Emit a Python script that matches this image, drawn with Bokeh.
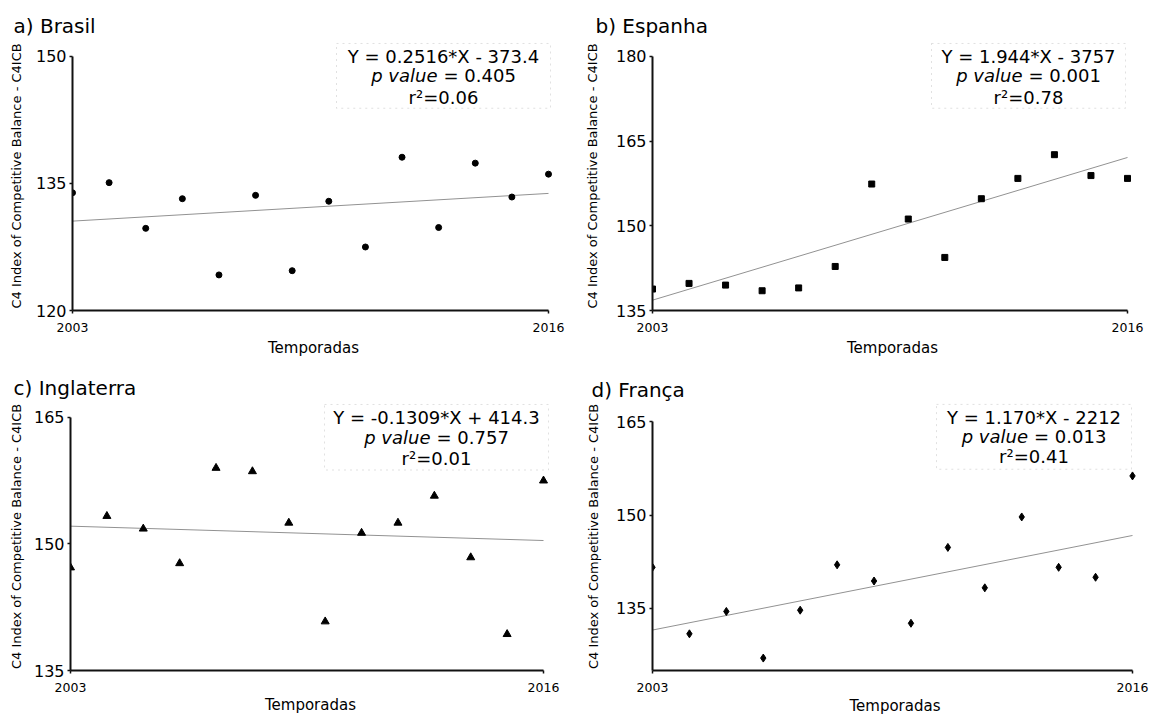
from bokeh.plotting import figure
from bokeh.models import Range1d, FixedTicker, Label, BoxAnnotation
from bokeh.layouts import column, row
from bokeh.embed import file_html
from bokeh.resources import INLINE

# ---------------- data ----------------
years = [2003, 2004, 2005, 2006, 2007, 2008, 2009, 2010, 2011, 2012, 2013, 2014, 2015, 2016]
brasil = [133.9, 135.1, 129.7, 133.2, 124.2, 133.6, 124.7, 132.9, 127.5, 138.1, 129.8, 137.4, 133.4, 136.1]
espanha = [138.8, 139.8, 139.5, 138.5, 139.0, 142.8, 157.4, 151.2, 144.4, 154.8, 158.4, 162.6, 158.9, 158.4]
inglaterra = [147.2, 153.3, 151.8, 147.7, 159.0, 158.6, 152.5, 140.8, 151.3, 152.5, 155.7, 148.4, 139.3, 157.5]
franca = [141.6, 130.9, 134.5, 127.0, 134.7, 142.0, 139.4, 132.6, 144.8, 138.3, 149.7, 141.6, 140.0, 156.3]

titles = ["a) Brasil", "b) Espanha", "c) Inglaterra", "d) França"]
equations = ["Y = 0.2516*X - 373.4", "Y = 1.944*X - 3757", "Y = -0.1309*X + 414.3", "Y = 1.170*X - 2212"]
p_values = ["0.405", "0.001", "0.757", "0.013"]
r2_values = ["0.06", "0.78", "0.01", "0.41"]
slopes = [0.2516, 1.944, -0.1309, 1.170]
intercepts = [-373.4, -3757.0, 414.3, -2212.0]
y_ranges = [(120, 150), (135, 180), (135, 165), (125, 165)]
y_ticks = [[120, 135, 150], [135, 150, 165, 180], [135, 150, 165], [135, 150, 165]]
x_ticks = [2003, 2016]
y_label = "C4 Index of Competitive Balance - C4ICB"
x_label = "Temporadas"

# ---------------- styles / layout ----------------
series = [brasil, espanha, inglaterra, franca]
markers = ["circle", "square", "triangle", "diamond"]
marker_sizes = [6, 6, 8, 8]
FONT = "DejaVu Sans"

# page-pixel geometry of each panel
#  L: y-axis x, R16: x of last year tick, TT: y of top tick, B: x-axis y
#  FR/FT: right/top edge of the drawing frame (room for the stats box)
GEOM = [
    dict(ox=0, oy=0, w=576, h=359, L=72, R16=548, TT=56, B=311, FR=554, FT=41,
         title=(13, 25), box=(336, 550, 43, 108), lines=(56, 75, 97), ylab_sd=9, xlab_sd=4),
    dict(ox=576, oy=0, w=576, h=359, L=652, R16=1127, TT=56, B=311, FR=1132, FT=41,
         title=(595, 25), box=(931, 1125, 43, 108), lines=(56, 75, 97), ylab_sd=13, xlab_sd=4),
    dict(ox=0, oy=359, w=576, h=359, L=70, R16=543, TT=417, B=672, FR=550, FT=402,
         title=(13, 387), box=(324, 548, 404, 470), lines=(417, 437, 458), ylab_sd=7, xlab_sd=1),
    dict(ox=576, oy=359, w=576, h=359, L=652, R16=1132, TT=413, B=670, FR=1137, FT=393,
         title=(591, 383), box=(936, 1131, 395, 462), lines=(409, 428, 449), ylab_sd=12, xlab_sd=2),
]


def make_panel(i):
    g = GEOM[i]
    y0, y1 = y_ranges[i]
    x0, x1 = years[0], years[-1]
    xpp = (x1 - x0) / (g["R16"] - g["L"])      # data units per pixel (x)
    ypp = (y1 - y0) / (g["B"] - g["TT"])       # data units per pixel (y)

    def X(px):
        return x0 + (px - g["L"]) * xpp

    def Y(py):
        return y0 + (g["B"] - py) * ypp

    p = figure(width=g["w"], height=g["h"],
               x_range=Range1d(x0, X(g["FR"])), y_range=Range1d(y0, Y(g["FT"])),
               output_backend="svg", toolbar_location=None,
               min_border_left=g["L"] - g["ox"], min_border_right=g["ox"] + g["w"] - g["FR"],
               min_border_top=g["FT"] - g["oy"], min_border_bottom=g["oy"] + g["h"] - g["B"])
    p.outline_line_color = None
    p.xgrid.visible = False
    p.ygrid.visible = False
    p.background_fill_color = "white"
    p.border_fill_color = "white"

    # title
    p.title.text = titles[i]
    p.title.align = "left"
    p.title.offset = g["title"][0] - g["L"]
    p.title.standoff = max(g["FT"] - g["title"][1] - 9, 0)
    p.title.text_font = FONT
    p.title.text_font_size = "20px"
    p.title.text_font_style = "normal"
    p.title.text_color = "black"

    for ax in (p.xaxis[0], p.yaxis[0]):
        ax.axis_line_color = "#111111"
        ax.axis_line_width = 2
        ax.major_tick_line_color = "#111111"
        ax.major_tick_line_width = 1.5
        ax.major_tick_out = 3
        ax.major_tick_in = 0
        ax.minor_tick_out = 0
        ax.minor_tick_in = 0
        ax.major_label_text_font = FONT
        ax.major_label_text_color = "black"
        ax.axis_label_text_font = FONT
        ax.axis_label_text_font_style = "normal"
        ax.axis_label_text_color = "black"

    xa = p.xaxis[0]
    xa.ticker = FixedTicker(ticks=x_ticks)
    xa.bounds = (x0, x1)
    xa.major_label_text_font_size = "12.5px"
    xa.major_label_standoff = 9
    xa.axis_label = x_label
    xa.axis_label_text_font_size = "15px"
    xa.axis_label_standoff = g["xlab_sd"]

    ya = p.yaxis[0]
    ya.ticker = FixedTicker(ticks=y_ticks[i])
    ya.bounds = (y0, y1)
    ya.major_label_text_font_size = "16px"
    ya.major_label_standoff = 3
    ya.axis_label = y_label
    ya.axis_label_text_font_size = "13px"
    ya.axis_label_standoff = g["ylab_sd"]

    # regression line
    p.line([x0, x1], [slopes[i] * x0 + intercepts[i], slopes[i] * x1 + intercepts[i]],
           line_color="#929292", line_width=1)
    # data points
    p.scatter(years, series[i], marker=markers[i], size=marker_sizes[i],
              fill_color="black", line_color="black")

    # statistics box
    bl, br, bt, bb = g["box"]
    p.add_layout(BoxAnnotation(left=X(bl), right=X(br), top=Y(bt), bottom=Y(bb),
                               fill_color=None, line_color="#9a9a9a", line_dash="dotted",
                               line_width=1))
    cx = (bl + br) / 2
    l1, l2, l3 = g["lines"]
    common = dict(text_baseline="middle", text_font=FONT, text_font_size="18px", text_color="black")
    p.add_layout(Label(x=X(cx), y=Y(l1), text=equations[i], text_align="center", **common))
    p.add_layout(Label(x=X(cx - 6), y=Y(l2), text="p value", text_align="right",
                       text_font_style="italic", **common))
    p.add_layout(Label(x=X(cx), y=Y(l2), text="= " + p_values[i], text_align="left", **common))
    p.add_layout(Label(x=X(cx), y=Y(l3), text="r\u00b2=" + r2_values[i], text_align="center", **common))
    return p


panels = [make_panel(i) for i in range(4)]
layout = column(row(panels[0], panels[1]), row(panels[2], panels[3]))

open("out.html", "w").write(file_html(layout, INLINE))
